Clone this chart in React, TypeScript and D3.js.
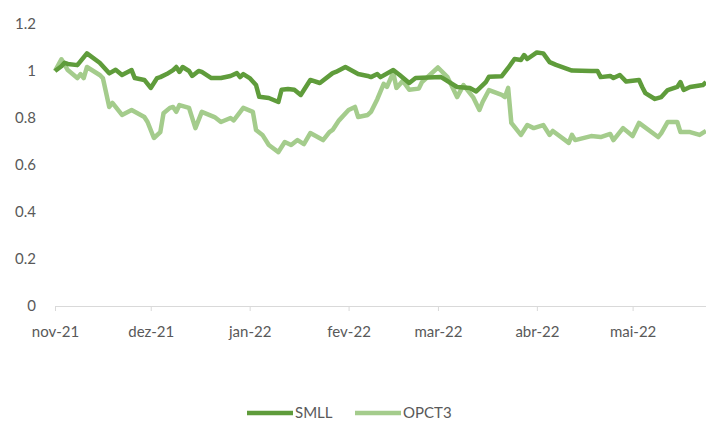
import * as d3 from 'd3';
import { useRef, useEffect } from 'react';

// SMLL index (normalised to 1 on nov-21)
const smllDates = [
    '2021-11-01', '2021-11-03', '2021-11-04', '2021-11-05', '2021-11-08', '2021-11-11', '2021-11-15', '2021-11-18',
    '2021-11-20', '2021-11-22', '2021-11-25', '2021-11-26', '2021-11-29', '2021-12-01', '2021-12-03', '2021-12-04',
    '2021-12-06', '2021-12-08', '2021-12-09', '2021-12-10', '2021-12-11', '2021-12-13', '2021-12-14', '2021-12-16',
    '2021-12-17', '2021-12-20', '2021-12-23', '2021-12-26', '2021-12-28', '2021-12-29', '2021-12-30', '2022-01-01',
    '2022-01-03', '2022-01-04', '2022-01-07', '2022-01-10', '2022-01-11', '2022-01-13', '2022-01-15', '2022-01-17',
    '2022-01-20', '2022-01-23', '2022-01-27', '2022-01-28', '2022-01-31', '2022-02-04', '2022-02-07', '2022-02-08',
    '2022-02-10', '2022-02-11', '2022-02-15', '2022-02-17', '2022-02-20', '2022-02-22', '2022-03-02', '2022-03-07',
    '2022-03-11', '2022-03-13', '2022-03-16', '2022-03-17', '2022-03-21', '2022-03-23', '2022-03-25', '2022-03-27',
    '2022-03-28', '2022-03-29', '2022-04-01', '2022-04-03', '2022-04-05', '2022-04-07', '2022-04-12', '2022-04-18',
    '2022-04-20', '2022-04-21', '2022-04-24', '2022-04-25', '2022-04-27', '2022-04-29', '2022-05-03', '2022-05-04',
    '2022-05-05', '2022-05-08', '2022-05-10', '2022-05-12', '2022-05-15', '2022-05-16', '2022-05-17', '2022-05-19',
    '2022-05-23', '2022-05-24'
];
const smllValues = [
    1.00, 1.02, 1.035, 1.03, 1.025, 1.075, 1.035, 0.99,
    1.005, 0.983, 1.004, 0.97, 0.962, 0.928, 0.97, 0.974,
    0.987, 1.004, 1.017, 0.996, 1.017, 1.0, 0.979, 1.0,
    0.996, 0.97, 0.97, 0.979, 0.991, 0.974, 0.987, 0.97,
    0.94, 0.89, 0.885, 0.868, 0.92, 0.923, 0.92, 0.898,
    0.962, 0.949, 0.991, 0.996, 1.017, 0.987, 0.979, 0.974,
    0.987, 0.974, 1.004, 0.983, 0.949, 0.97, 0.974, 0.932,
    0.928, 0.913, 0.953, 0.976, 0.978, 1.013, 1.051, 1.047,
    1.068, 1.051, 1.079, 1.075, 1.038, 1.026, 1.002, 1.0,
    1.0, 0.974, 0.979, 0.97, 0.983, 0.955, 0.962, 0.932,
    0.906, 0.881, 0.889, 0.919, 0.932, 0.953, 0.919, 0.932,
    0.94, 0.953
];

// OPCT3 (normalised to 1 on nov-21)
const opctDates = [
    '2021-11-01', '2021-11-03', '2021-11-05', '2021-11-08', '2021-11-09', '2021-11-10', '2021-11-11', '2021-11-15',
    '2021-11-16', '2021-11-18', '2021-11-19', '2021-11-22', '2021-11-25', '2021-11-29', '2021-11-30', '2021-12-02',
    '2021-12-04', '2021-12-05', '2021-12-07', '2021-12-08', '2021-12-09', '2021-12-10', '2021-12-13', '2021-12-15',
    '2021-12-17', '2021-12-21', '2021-12-23', '2021-12-26', '2021-12-27', '2021-12-30', '2022-01-02', '2022-01-03',
    '2022-01-05', '2022-01-07', '2022-01-10', '2022-01-12', '2022-01-14', '2022-01-16', '2022-01-18', '2022-01-20',
    '2022-01-24', '2022-01-26', '2022-01-27', '2022-01-29', '2022-02-01', '2022-02-03', '2022-02-04', '2022-02-07',
    '2022-02-08', '2022-02-10', '2022-02-12', '2022-02-13', '2022-02-15', '2022-02-16', '2022-02-18', '2022-02-20',
    '2022-02-23', '2022-02-24', '2022-03-01', '2022-03-04', '2022-03-07', '2022-03-09', '2022-03-12', '2022-03-14',
    '2022-03-15', '2022-03-17', '2022-03-21', '2022-03-22', '2022-03-23', '2022-03-24', '2022-03-27', '2022-03-29',
    '2022-03-31', '2022-04-03', '2022-04-05', '2022-04-06', '2022-04-11', '2022-04-12', '2022-04-13', '2022-04-18',
    '2022-04-21', '2022-04-24', '2022-04-25', '2022-04-28', '2022-05-01', '2022-05-03', '2022-05-09', '2022-05-10',
    '2022-05-12', '2022-05-15', '2022-05-16', '2022-05-19', '2022-05-22', '2022-05-24'
];
const opctValues = [
    1.0, 1.05, 1.004, 0.97, 0.987, 0.97, 1.017, 0.983,
    0.97, 0.847, 0.864, 0.813, 0.834, 0.804, 0.783, 0.715,
    0.74, 0.82, 0.843, 0.847, 0.826, 0.855, 0.843, 0.757,
    0.826, 0.804, 0.783, 0.8, 0.79, 0.843, 0.826, 0.749,
    0.728, 0.685, 0.655, 0.698, 0.685, 0.706, 0.689, 0.736,
    0.706, 0.74, 0.749, 0.79, 0.834, 0.847, 0.804, 0.813,
    0.826, 0.88, 0.945, 0.932, 0.993, 0.928, 0.958, 0.92,
    0.925, 0.953, 1.015, 0.974, 0.889, 0.94, 0.889, 0.834,
    0.868, 0.919, 0.898, 0.889, 0.928, 0.779, 0.728, 0.77,
    0.757, 0.77, 0.728, 0.745, 0.694, 0.728, 0.706, 0.723,
    0.719, 0.732, 0.706, 0.757, 0.723, 0.779, 0.719, 0.736,
    0.783, 0.783, 0.74, 0.74, 0.728, 0.745
];

const yTicks = [0, 0.2, 0.4, 0.6, 0.8, 1, 1.2];
const monthTicks = ['2021-11-01', '2021-12-01', '2022-01-01', '2022-02-01', '2022-03-01', '2022-04-01', '2022-05-01'];
const monthLabels = ['nov-21', 'dez-21', 'jan-22', 'fev-22', 'mar-22', 'abr-22', 'mai-22'];
const seriesNames = ['SMLL', 'OPCT3'];
const seriesColors = ['#5f9c3b', '#a4cc8c'];

const FONT = 'Lato, "Open Sans", sans-serif';

const App = () => {

    const svgRef = useRef<SVGSVGElement | null>(null)

    useEffect(() => {
        const width = 706;
        const height = 422;
        const parse = d3.timeParse('%Y-%m-%d');

        d3.select(svgRef.current).selectAll('*').remove();

        const svg = d3.select(svgRef.current)
            .attr('width', width)
            .attr('height', height)

        // Scales
        const xScale = d3.scaleTime()
            .domain([parse('2021-11-01')!, parse('2022-05-24')!])
            .range([55, 706])

        const yScale = d3.scaleLinear()
            .domain([0, 1.2])
            .range([306, 24])

        // y labels (no axis line, no gridlines)
        svg.selectAll('text.y-label')
            .data(yTicks)
            .enter()
            .append('text')
            .attr('class', 'y-label')
            .attr('x', 36)
            .attr('y', d => yScale(d))
            .attr('dy', '0.35em')
            .attr('text-anchor', 'end')
            .attr('font-family', FONT)
            .attr('font-size', 15)
            .attr('fill', '#595959')
            .text(d => String(d))

        // x axis
        const tickDates = monthTicks.map(d => parse(d)!);
        const xAxis = svg.append('g')
            .attr('transform', `translate(0,${yScale(0)})`)
            .call(
                d3.axisBottom(xScale)
                    .tickValues(tickDates)
                    .tickSize(5)
                    .tickPadding(15)
                    .tickFormat((_, i) => monthLabels[i])
            )
        xAxis.select('.domain').attr('stroke', '#d9d9d9').attr('d', `M55,0.5H706`)
        xAxis.selectAll('.tick line').attr('stroke', '#d9d9d9')
        xAxis.selectAll('.tick text')
            .attr('font-family', FONT)
            .attr('font-size', 15)
            .attr('fill', '#595959')

        // Lines
        const line = d3.line<[Date, number]>()
            .x(d => xScale(d[0]))
            .y(d => yScale(d[1]))

        const smll: [Date, number][] = smllDates.map((d, i) => [parse(d)!, smllValues[i]]);
        const opct: [Date, number][] = opctDates.map((d, i) => [parse(d)!, opctValues[i]]);

        // OPCT3 drawn first, SMLL on top
        svg.append('path')
            .datum(opct)
            .attr('d', line)
            .attr('fill', 'none')
            .attr('stroke', seriesColors[1])
            .attr('stroke-width', 4.5)
            .attr('stroke-linejoin', 'round')

        svg.append('path')
            .datum(smll)
            .attr('d', line)
            .attr('fill', 'none')
            .attr('stroke', seriesColors[0])
            .attr('stroke-width', 4.5)
            .attr('stroke-linejoin', 'round')

        // Legend
        const legendX = [247, 355];
        const legend = svg.append('g')
        seriesNames.forEach((name, i) => {
            legend.append('line')
                .attr('x1', legendX[i])
                .attr('x2', legendX[i] + 46)
                .attr('y1', 413)
                .attr('y2', 413)
                .attr('stroke', seriesColors[i])
                .attr('stroke-width', 4.5)
            legend.append('text')
                .attr('x', legendX[i] + 48)
                .attr('y', 413)
                .attr('dy', '0.35em')
                .attr('font-family', FONT)
                .attr('font-size', 15)
                .attr('fill', '#595959')
                .text(name)
        })

    }, [])

    return (
        <svg ref={svgRef} style={{ position: 'absolute', left: 0, top: 0 }}></svg>
    )
}

export default App
